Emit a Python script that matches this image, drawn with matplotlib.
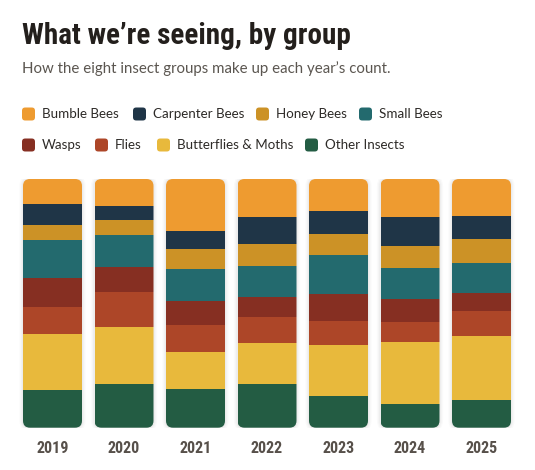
import matplotlib
matplotlib.use("Agg")
import matplotlib.pyplot as plt
from matplotlib import font_manager as fm
from matplotlib.patches import FancyBboxPatch
import numpy as np

years = ["2019", "2020", "2021", "2022", "2023", "2024", "2025"]
groups = ["Bumble Bees", "Carpenter Bees", "Honey Bees", "Small Bees",
          "Wasps", "Flies", "Butterflies & Moths", "Other Insects"]
colors = ["#EE9B30", "#1F3547", "#CC9226", "#236A6E",
          "#862F22", "#AD4628", "#E8B93C", "#235C43"]

# share of each year's count (%)
bumble = [10.1, 10.9, 20.9, 15.3, 12.9, 15.3, 14.9]
carpenter = [8.4, 5.6, 7.2, 10.9, 9.2, 11.7, 9.2]
honey = [6.0, 6.0, 8.0, 8.8, 8.4, 8.8, 9.7]
small = [15.1, 12.9, 12.9, 12.5, 15.7, 12.5, 12.1]
wasps = [11.8, 10.1, 9.7, 8.0, 10.9, 9.2, 7.2]
flies = [10.9, 14.1, 10.9, 10.5, 9.7, 8.0, 10.1]
butterflies = [22.5, 22.9, 14.9, 16.5, 20.5, 24.9, 25.7]
other = [15.1, 17.6, 15.5, 17.6, 12.7, 9.5, 11.1]
series = [bumble, carpenter, honey, small, wasps, flies, butterflies, other]


def pick_font(names):
    for n in names:
        try:
            fm.findfont(fm.FontProperties(family=n), fallback_to_default=False)
            return n
        except Exception:
            pass
    return "DejaVu Sans"


cond = pick_font(["Liberation Sans Narrow", "DejaVu Sans Condensed", "Roboto Condensed", "Roboto"])
body = pick_font(["Lato", "Noto Sans", "DejaVu Sans"])

W, H = 535, 470
fig = plt.figure(figsize=(W / 100, H / 100), dpi=100)
fig.patch.set_facecolor("white")

fig.text(22 / W, 1 - 36 / H, "What we\u2019re seeing, by group", fontfamily=cond,
         fontweight="bold", fontsize=21, color="#231f1c", va="center", ha="left")
fig.text(22 / W, 1 - 69 / H, "How the eight insect groups make up each year\u2019s count.",
         fontfamily=body, fontsize=10.8, color="#5b5650", va="center", ha="left")

# legend
leg_pos = [(22, 114), (133, 114), (256, 114), (359, 114),
           (22, 145), (95, 145), (157, 145), (305, 145)]
for (lx, ly), name, c in zip(leg_pos, groups, colors):
    fig.patches.append(FancyBboxPatch(((lx) / W, 1 - (ly + 6.5) / H), 13 / W, 13 / H,
                                      boxstyle="round,pad=0,rounding_size=0.006",
                                      mutation_aspect=W / H,
                                      transform=fig.transFigure, facecolor=c, edgecolor="none"))
    fig.text((lx + 20) / W, 1 - ly / H, name, fontfamily=body, fontsize=9.6,
             color="#2d2a27", va="center", ha="left")

# bars
n = len(years)
left_px, top_px, bot_px = 16.75, 179, 427.7
ax = fig.add_axes([left_px / W, 1 - bot_px / H, 71.5 * n / W, (bot_px - top_px) / H])
ax.set_xlim(-0.5, n - 0.5)
ax.set_ylim(0, 100)
ax.axis("off")

bw = 59 / 71.5
r = 7 / 71.5
asp = (100 / (bot_px - top_px)) / (1 / 71.5)
x = np.arange(n)

for i in range(n):
    for k, a in enumerate([0.03, 0.025, 0.02]):
        g = (k + 1) * 1.2 / 71.5
        sh = FancyBboxPatch((i - bw / 2 - g, -g * asp), bw + 2 * g, 100 + 2 * g * asp,
                            boxstyle=f"round,pad=0,rounding_size={r + g}",
                            mutation_aspect=asp, facecolor="black", alpha=a,
                            edgecolor="none", zorder=1)
        ax.add_patch(sh)

stack = np.array(series[::-1])
stack = stack / stack.sum(axis=0) * 100
bottom = np.zeros(n)
cols_rev = colors[::-1]
bar_sets = []
for vals, c in zip(stack, cols_rev):
    bars = ax.bar(x, vals, bottom=bottom, width=bw, color=c, edgecolor="none", zorder=3)
    bar_sets.append(bars)
    bottom += vals

for i in range(n):
    clip = FancyBboxPatch((i - bw / 2, 0), bw, 100,
                          boxstyle=f"round,pad=0,rounding_size={r}",
                          mutation_aspect=asp, facecolor="none", edgecolor="none",
                          transform=ax.transData)
    ax.add_patch(clip)
    for bars in bar_sets:
        bars[i].set_clip_path(clip)

for i, yr in enumerate(years):
    ax.text(i, -8.5, yr, ha="center", va="center", fontfamily=cond, fontweight="bold",
            fontsize=11.5, color="#57504a", clip_on=False)

fig.savefig("out.png", dpi=100, facecolor="white")
